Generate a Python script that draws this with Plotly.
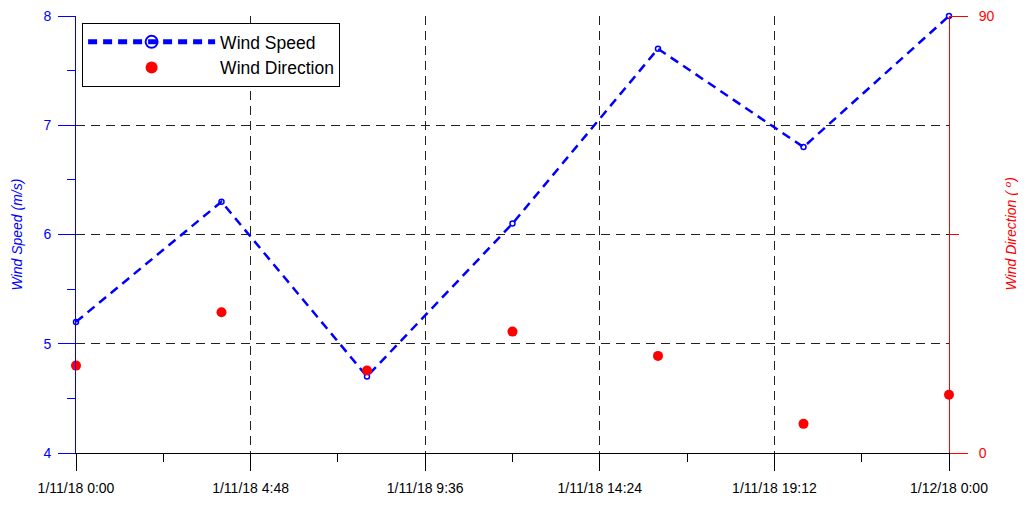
import plotly.graph_objects as go
import pandas as pd

# ---- data ----
times = ["2018-01-11 00:00", "2018-01-11 04:00", "2018-01-11 08:00", "2018-01-11 12:00",
         "2018-01-11 16:00", "2018-01-11 20:00", "2018-01-12 00:00"]
wind_speed = [5.2, 6.3, 4.7, 6.1, 7.7, 6.8, 8.0]
wind_direction = [18, 29, 17, 25, 20, 6, 12]

x_tick_vals = ["2018-01-11 00:00", "2018-01-11 04:48", "2018-01-11 09:36",
               "2018-01-11 14:24", "2018-01-11 19:12", "2018-01-12 00:00"]
x_tick_text = ["1/11/18 0:00", "1/11/18 4:48", "1/11/18 9:36",
               "1/11/18 14:24", "1/11/18 19:12", "1/12/18 0:00"]
x_minor_vals = ["2018-01-11 02:24", "2018-01-11 07:12", "2018-01-11 12:00",
                "2018-01-11 16:48", "2018-01-11 21:36"]

FONT = "Liberation Sans, Arial, sans-serif"
GRID = "#222222"

fig = go.Figure()
fig.add_trace(go.Scatter(
    x=pd.to_datetime(times), y=wind_speed, name="Wind Speed", mode="lines+markers",
    line=dict(color="#0000ff", width=2.5, dash="9px,6px"),
    marker=dict(symbol="circle-open", size=5, color="#0000ff", line=dict(width=1.5, color="#0000ff")),
    yaxis="y", cliponaxis=False))
fig.add_trace(go.Scatter(
    x=pd.to_datetime(times), y=wind_direction, name="Wind Direction", mode="markers",
    marker=dict(symbol="circle", size=10, color="#ff0000"),
    yaxis="y2", cliponaxis=False))

# page body has an 8px default margin: the figure is sized so the page does not overflow
# and the plot area lands at x 76-949, y 16-453 of the window
fig.update_layout(
    width=1010, height=489,
    margin=dict(l=68, r=69, t=8, b=44, autoexpand=False),
    paper_bgcolor="white", plot_bgcolor="white",
    font=dict(family=FONT, size=13, color="black"),
    showlegend=True,
    legend=dict(x=0.007, y=0.984, xanchor="left", yanchor="top",
                bgcolor="white", bordercolor="black", borderwidth=1,
                font=dict(size=17.5, color="black"), itemwidth=127,
                itemsizing="constant", tracegroupgap=0),
    xaxis=dict(
        type="date", automargin=False,
        range=[pd.Timestamp("2018-01-11 00:00"), pd.Timestamp("2018-01-12 00:00")],
        tickmode="array", tickvals=pd.to_datetime(x_tick_vals), ticktext=x_tick_text,
        ticks="outside", ticklen=17, tickcolor="black", tickwidth=1,
        minor=dict(tickmode="array", tickvals=pd.to_datetime(x_minor_vals),
                   ticks="outside", ticklen=8, tickcolor="black", showgrid=False),
        showline=True, linecolor="black", linewidth=1,
        showgrid=True, gridcolor=GRID, gridwidth=1, griddash="9px,6px",
        zeroline=False, tickfont=dict(size=14, color="black"),
        ticklabeloverflow="allow", ticklabelstandoff=5,
    ),
    yaxis=dict(
        range=[4, 8], tickmode="array", tickvals=[4, 5, 6, 7, 8], automargin=False,
        ticks="outside", ticklen=17, tickcolor="#0000ff",
        minor=dict(tickmode="array", tickvals=[4.5, 5.5, 6.5, 7.5],
                   ticks="outside", ticklen=8, tickcolor="#0000ff", showgrid=False),
        showline=True, linecolor="#0000ff", linewidth=1,
        showgrid=True, gridcolor=GRID, gridwidth=1, griddash="9px,6px",
        zeroline=False, tickfont=dict(size=14, color="#0000ff"),
        ticklabeloverflow="allow", ticklabelstandoff=4,
    ),
    yaxis2=dict(
        overlaying="y", side="right", range=[0, 90], automargin=False,
        tickmode="array", tickvals=[0, 90],
        ticks="outside", ticklen=18, tickcolor="#ff0000",
        minor=dict(tickmode="array", tickvals=[45], ticks="outside", ticklen=9,
                   tickcolor="#ff0000", showgrid=False),
        showline=True, linecolor="#ff0000", linewidth=1,
        showgrid=False, zeroline=False,
        tickfont=dict(size=14, color="#ff0000"),
        ticklabeloverflow="allow", ticklabelstandoff=8,
    ),
    annotations=[
        dict(text="<i>Wind Speed (m/s)</i>", xref="paper", yref="paper",
             x=-0.0676, y=0.5, xanchor="center", yanchor="middle", textangle=-90,
             showarrow=False, font=dict(size=14, color="#0000ff")),
        dict(text="<i>Wind Direction ( <sup>o</sup>)</i>", xref="paper", yref="paper",
             x=1.0699, y=0.5, xanchor="center", yanchor="middle", textangle=-90,
             showarrow=False, font=dict(size=14, color="#ff0000")),
    ],
)

fig.write_html("out.html")
